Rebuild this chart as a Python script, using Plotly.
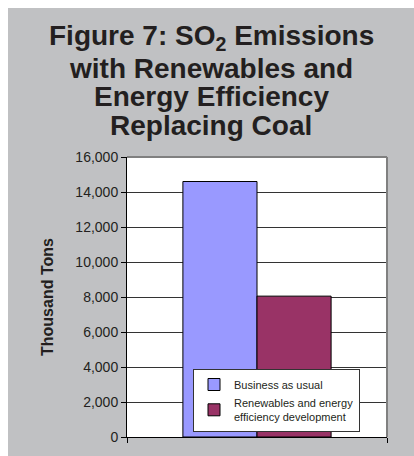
import plotly.graph_objects as go

# Data (thousand tons of SO2)
scenarios = ["Business as usual", "Renewables and energy<br>efficiency development"]
emissions = [14600, 8050]
bar_colors = ["#9999ff", "#993366"]

title_lines = [
    "Figure 7: SO<sub>2</sub> Emissions",
    "with Renewables and",
    "Energy Efficiency",
    "Replacing Coal",
]
y_tick_vals = [0, 2000, 4000, 6000, 8000, 10000, 12000, 14000, 16000]

FONT = "Liberation Sans, Arial, sans-serif"
GRAY_BG = "#c0c1c3"

W, H = 414, 456
L, R, T, B = 127, 27, 157, 19
PW, PH = W - L - R, H - T - B


def px_to_paper_x(px):
    return (px - L) / PW


def px_to_paper_y(py):
    return (H - B - py) / PH


fig = go.Figure()
for name, val, col in zip(scenarios, emissions, bar_colors):
    fig.add_trace(go.Bar(
        x=[0], y=[val], name=name,
        marker=dict(color=col, line=dict(color="#000000", width=1)),
    ))

annotations = []
# Title, one annotation per line for tight line spacing
centers = [38.0, 68.6, 96.9, 125.3]
for txt, cy in zip(title_lines, centers):
    annotations.append(dict(
        text=f"<b>{txt}</b>", xref="paper", yref="paper",
        x=px_to_paper_x(211), y=px_to_paper_y(cy),
        xanchor="center", yanchor="middle", showarrow=False,
        font=dict(family=FONT, size=28, color="#231f20"),
    ))
# Y-axis title
annotations.append(dict(
    text="<b>Thousand Tons</b>", xref="paper", yref="paper",
    x=px_to_paper_x(47), y=0.5, textangle=-90,
    xanchor="center", yanchor="middle", showarrow=False,
    font=dict(family=FONT, size=16, color="#231f20"),
))

shapes = [
    # white strips along top and left edges of the page
    dict(type="rect", xref="paper", yref="paper", layer="below",
         x0=px_to_paper_x(0), x1=px_to_paper_x(8), y0=px_to_paper_y(H), y1=px_to_paper_y(0),
         fillcolor="white", line=dict(width=0)),
    dict(type="rect", xref="paper", yref="paper", layer="below",
         x0=px_to_paper_x(0), x1=px_to_paper_x(W), y0=px_to_paper_y(8), y1=px_to_paper_y(0),
         fillcolor="white", line=dict(width=0)),
    # gray plot-area border on top and right
    dict(type="line", xref="paper", yref="paper", x0=0, x1=1, y0=1, y1=1,
         line=dict(color="#808080", width=2)),
    dict(type="line", xref="paper", yref="paper", x0=1, x1=1, y0=0, y1=1,
         line=dict(color="#808080", width=2)),
]

fig.update_layout(
    width=W, height=H,
    margin=dict(l=L, r=R, t=T, b=B, autoexpand=False),
    paper_bgcolor=GRAY_BG, plot_bgcolor="white",
    barmode="group", bargap=0.43, bargroupgap=0,
    font=dict(family=FONT, color="#231f20"),
    showlegend=True,
    legend=dict(
        x=px_to_paper_x(193), y=px_to_paper_y(369), xanchor="left", yanchor="top",
        bgcolor="white", bordercolor="#333333", borderwidth=1,
        font=dict(family=FONT, size=11, color="#231f20"),
        traceorder="normal",
    ),
    annotations=annotations,
    shapes=shapes,
)
fig.update_xaxes(
    range=[-0.5, 0.5], tickvals=[-0.5, 0.5], showticklabels=False,
    ticks="outside", ticklen=5, tickcolor="#000000",
    showline=True, linecolor="#000000", linewidth=1,
    showgrid=False, zeroline=False, fixedrange=True,
)
fig.update_yaxes(
    range=[0, 16000], tickvals=y_tick_vals, tickformat=",d",
    ticks="outside", ticklen=5, tickcolor="#000000",
    showline=True, linecolor="#000000", linewidth=1,
    showgrid=True, gridcolor="#333333", gridwidth=1,
    zeroline=False, tickfont=dict(family=FONT, size=14, color="#231f20"),
    fixedrange=True,
)

fig.write_html("out.html")
